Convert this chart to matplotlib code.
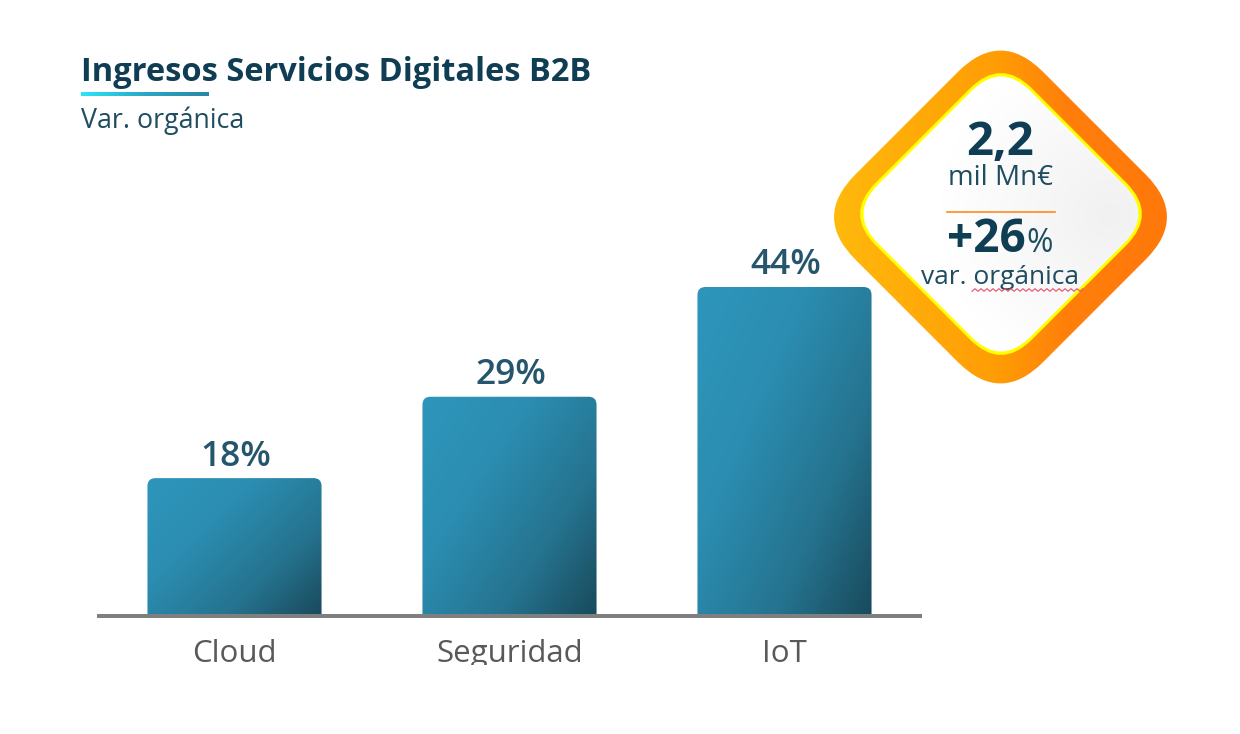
import numpy as np
import matplotlib
matplotlib.use('Agg')
import matplotlib.pyplot as plt
from matplotlib.colors import LinearSegmentedColormap
from matplotlib.patches import BoxStyle, PathPatch, Rectangle
from matplotlib.path import Path
from matplotlib.transforms import Affine2D, Bbox

plt.rcParams['font.family'] = ['Open Sans', 'DejaVu Sans']

categories = ['Cloud', 'Seguridad', 'IoT']
values = [18.4, 29.3, 44.0]
value_labels = ['18%', '29%', '44%']

W, H = 1240, 734
TITLE_DARK = '#0f3d54'
TEXT_DARK = '#1e4c61'
LABEL_COL = '#25566b'

bar_cmap = LinearSegmentedColormap.from_list(
    'bar', [(0, '#2e96bb'), (0.35, '#2b8db1'), (0.7, '#25738f'), (1, '#194a5c')])
ring_cmap = LinearSegmentedColormap.from_list(
    'ring', [(0, '#ffb90c'), (0.5, '#ff9c05'), (0.7, '#ff7f0a'), (1, '#ff780a')])
line_cmap = LinearSegmentedColormap.from_list('line', ['#2ce6f5', '#2aa7c6', '#2a86a6'])
inner_cmap = LinearSegmentedColormap.from_list('inner', ['#f1f1f2', '#ffffff'])

fig = plt.figure(figsize=(W / 100, H / 100), dpi=100, facecolor='white')

# bar chart, pixel box 97..922 across, baseline at 615.5
ax = fig.add_axes([97 / W, (H - 615.5) / H, 825 / W, 415.5 / H])
bars = ax.bar(range(len(categories)), values, width=0.633, color='none')

rx = 8 / 275
ry = 8 / 7.466
for bar, label in zip(bars, value_labels):
    x0, w, h = bar.get_x(), bar.get_width(), bar.get_height()
    verts = [(x0, 0), (x0, h - ry), (x0, h), (x0 + rx, h), (x0 + w - rx, h),
             (x0 + w, h), (x0 + w, h - ry), (x0 + w, 0), (x0, 0)]
    codes = [Path.MOVETO, Path.LINETO, Path.CURVE3, Path.CURVE3, Path.LINETO,
             Path.CURVE3, Path.CURVE3, Path.LINETO, Path.CLOSEPOLY]
    clip = PathPatch(Path(verts, codes), transform=ax.transData, fc='none', ec='none')
    ax.add_patch(clip)
    # diagonal shading, darkest in the lower right corner
    u, v = np.meshgrid(np.linspace(0, 1, 120), np.linspace(0, 1, 200))
    t = np.clip(0.55 * u + 0.45 * v, 0, 1)
    im = ax.imshow(t, cmap=bar_cmap, vmin=0, vmax=1, extent=(x0, x0 + w, 0, h),
                   aspect='auto', origin='upper', zorder=2)
    im.set_clip_path(clip)
    ax.annotate(label, (x0 + w / 2, h), xytext=(1, 9), textcoords='offset points',
                ha='center', va='baseline', fontsize=25.5, fontweight='semibold', color=LABEL_COL)
ax.set_xlim(-0.5, 2.5)
ax.set_ylim(0, 415.5 / 7.466)

for side in ['top', 'left', 'right']:
    ax.spines[side].set_visible(False)
ax.spines['bottom'].set_color('#7f7f7f')
ax.spines['bottom'].set_linewidth(2.9)
ax.spines['bottom'].set_capstyle('butt')
ax.set_yticks([])
ax.set_xticks(range(len(categories)))
ax.set_xticklabels(categories, fontsize=22.5, color='#595959')
ax.tick_params(axis='x', length=0, pad=17)
# labels are cut off at the bottom in the source
for tick in ax.get_xticklabels():
    tick.set_clip_on(True)
    tick.set_clip_box(Bbox([[0, H - 665], [W, H]]))

# overlay in pixel coordinates for the title and the badge
ov = fig.add_axes([0, 0, 1, 1], facecolor='none')
ov.axis('off')


def diamond(half, radius, cx, cy):
    box = BoxStyle.Round(pad=0, rounding_size=radius)(-half, -half, 2 * half, 2 * half, 1)
    return box.transformed(Affine2D().rotate_deg(45).translate(cx, cy))


def filled(path, data, cmap, extent, zorder, vmin=0, vmax=1):
    clip = PathPatch(path, transform=ov.transData, fc='none', ec='none')
    ov.add_patch(clip)
    im = ov.imshow(data, cmap=cmap, vmin=vmin, vmax=vmax, extent=extent,
                   aspect='auto', zorder=zorder)
    im.set_clip_path(clip)


ramp = np.linspace(0, 1, 256).reshape(1, -1)
filled(diamond(132.7, 60, 1000.5, 217), ramp, ring_cmap, (834, 1167, 384, 50), 1)
ov.add_patch(PathPatch(diamond(110.7, 44, 1001, 214), fc='#ffff00', ec='none', zorder=2))
xx, yy = np.meshgrid(np.linspace(859, 1143, 200), np.linspace(72, 356, 200))
dist = np.clip(np.hypot(xx - 1110, yy - 215) / 170, 0, 1)
filled(diamond(107.8, 42, 1001, 214), dist, inner_cmap, (859, 1143, 356, 72), 3)

ov.plot([947, 1055], [212, 212], color='#ff8c1e', lw=1.2, zorder=4)
ov.text(1000, 155, '2,2', ha='center', va='baseline', fontsize=34, fontweight='bold',
        color=TITLE_DARK, zorder=5)
ov.text(1001, 185, 'mil Mn€', ha='center', va='baseline', fontsize=20, color=TEXT_DARK, zorder=5)
ov.text(1026, 252, '+26', ha='right', va='baseline', fontsize=33, fontweight='bold',
        color=TITLE_DARK, zorder=5)
ov.text(1026, 252, '%', ha='left', va='baseline', fontsize=23, color=TEXT_DARK, zorder=5)
ov.text(1000, 284, 'var. orgánica', ha='center', va='baseline', fontsize=19,
        color=TEXT_DARK, zorder=5)

# spell check squiggle under the last word
sx = np.arange(972, 1084, 3)
sy = 290 + 1.3 * (-1.0) ** np.arange(len(sx))
ov.plot(sx, sy, color='#e8506a', lw=0.8, zorder=6)

ov.text(81, 81, 'Ingresos Servicios Digitales B2B', ha='left', va='baseline', fontsize=23.5,
        fontweight='bold', color=TITLE_DARK)
ov.text(81, 128, 'Var. orgánica', ha='left', va='baseline', fontsize=19.3, color=TEXT_DARK)
under = Rectangle((81, 92), 128, 4, transform=ov.transData, fc='none', ec='none')
ov.add_patch(under)
im = ov.imshow(ramp, cmap=line_cmap, vmin=0, vmax=1, extent=(81, 209, 96, 92), aspect='auto')
im.set_clip_path(under)

ov.set_xlim(0, W)
ov.set_ylim(H, 0)

fig.savefig('out.png', dpi=100, facecolor='white')
